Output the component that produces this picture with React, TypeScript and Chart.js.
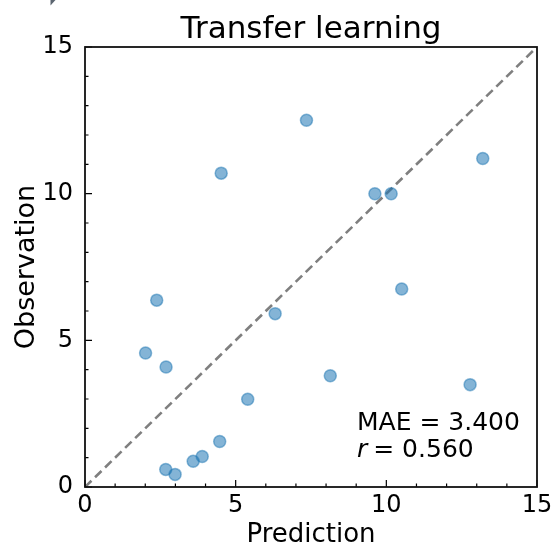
import React, { useEffect, useRef } from 'react';
import { Chart, registerables } from 'chart.js';

Chart.register(...registerables);

// Predicted vs. observed values for each sample
const predicted = [7.35, 4.52, 2.38, 6.31, 2.01, 2.69, 8.14, 5.4, 4.47, 3.89, 3.59, 2.68, 2.99, 13.2, 9.62, 10.16, 10.51, 12.78];
const observed = [12.5, 10.7, 6.37, 5.91, 4.57, 4.09, 3.79, 2.99, 1.55, 1.04, 0.88, 0.6, 0.43, 11.2, 10.0, 10.0, 6.75, 3.49];

// Shared axis range; the identity line runs across it
const axisRange = [0, 15];
const majorStep = 5;
const minorStep = 1;

const chartTitle = 'Transfer learning';
const xLabel = 'Prediction';
const yLabel = 'Observation';
const maeValue = 3.4;
const rValue = 0.56;

const FONT = '"DejaVu Sans", "Liberation Sans", sans-serif';

// Box frame, inward ticks, title and the stats annotation
const decorations = {
  id: 'decorations',
  afterDraw(chart: any) {
    const { ctx, chartArea } = chart;
    const { left, right, top, bottom } = chartArea;
    const xs = chart.scales.x;
    const ys = chart.scales.y;
    ctx.save();

    // inward ticks on left and bottom
    ctx.strokeStyle = '#000';
    ctx.lineWidth = 1.2;
    for (let v = axisRange[0]; v <= axisRange[1]; v += minorStep) {
      const len = v % majorStep === 0 ? 7 : 3.5;
      const py = ys.getPixelForValue(v);
      const px = xs.getPixelForValue(v);
      ctx.beginPath();
      ctx.moveTo(left, py);
      ctx.lineTo(left + len, py);
      ctx.moveTo(px, bottom);
      ctx.lineTo(px, bottom - len);
      ctx.stroke();
    }

    // frame
    ctx.lineWidth = 1.8;
    ctx.strokeStyle = '#111';
    ctx.strokeRect(left, top, right - left, bottom - top);

    // title
    ctx.fillStyle = '#000';
    ctx.font = `31px ${FONT}`;
    ctx.textAlign = 'center';
    ctx.textBaseline = 'alphabetic';
    ctx.fillText(chartTitle, (left + right) / 2, 38);

    // stats
    ctx.textAlign = 'left';
    ctx.font = `25px ${FONT}`;
    const tx = 357;
    ctx.fillText(`MAE = ${maeValue.toFixed(3)}`, tx, 430);
    ctx.font = `italic 25px ${FONT}`;
    ctx.fillText('r', tx, 457);
    const rw = ctx.measureText('r').width;
    ctx.font = `25px ${FONT}`;
    ctx.fillText(` = ${rValue.toFixed(3)}`, tx + rw - 2, 457);

    // small corner marker
    ctx.fillStyle = '#5b6570';
    ctx.beginPath();
    ctx.moveTo(50.5, 0);
    ctx.lineTo(55.5, 0);
    ctx.lineTo(50.5, 5.5);
    ctx.closePath();
    ctx.fill();

    ctx.restore();
  },
};

export default function App() {
  const canvasRef = useRef<HTMLCanvasElement | null>(null);

  useEffect(() => {
    const canvas = canvasRef.current;
    if (!canvas) return;
    const points = predicted.map((x, i) => ({ x, y: observed[i] }));
    const identity = axisRange.map((v) => ({ x: v, y: v }));

    const chart = new Chart(canvas, {
      type: 'scatter',
      data: {
        datasets: [
          {
            type: 'line',
            data: identity,
            borderColor: '#7f7f7f',
            borderDash: [9, 5],
            borderWidth: 2.6,
            pointRadius: 0,
            fill: false,
            order: 2,
          } as any,
          {
            data: points,
            backgroundColor: 'rgba(31,119,180,0.55)',
            borderColor: 'rgba(31,119,180,0.5)',
            borderWidth: 1.5,
            pointRadius: 6,
            order: 1,
          },
        ],
      },
      options: {
        animation: false,
        responsive: false,
        devicePixelRatio: 1,
        layout: { padding: { top: 47, right: 15, left: 0, bottom: 0 } },
        plugins: {
          legend: { display: false },
          tooltip: { enabled: false },
        },
        scales: {
          x: {
            type: 'linear',
            min: axisRange[0],
            max: axisRange[1],
            grid: { display: false, drawTicks: false },
            border: { display: false },
            ticks: {
              stepSize: majorStep,
              color: '#000',
              font: { family: FONT, size: 24 },
              padding: 4,
              maxRotation: 0,
            },
            title: {
              display: true,
              text: xLabel,
              color: '#000',
              font: { family: FONT, size: 26, lineHeight: 1 },
              padding: { top: 0, bottom: 0.5 },
            },
            afterFit: (s: any) => {
              s.height = 62;
              s.paddingLeft = 0;
              s.paddingRight = 0;
            },
          },
          y: {
            type: 'linear',
            min: axisRange[0],
            max: axisRange[1],
            grid: { display: false, drawTicks: false },
            border: { display: false },
            ticks: {
              stepSize: majorStep,
              color: '#000',
              font: { family: FONT, size: 24 },
              padding: 12,
            },
            title: {
              display: true,
              text: yLabel,
              color: '#000',
              font: { family: FONT, size: 27, lineHeight: 1 },
              padding: { top: 13.5, bottom: 0 },
            },
            afterFit: (s: any) => {
              s.width = 85;
              s.paddingTop = 0;
              s.paddingBottom = 0;
            },
          },
        },
      },
      plugins: [decorations],
    });

    return () => chart.destroy();
  }, []);

  return (
    <div style={{ position: 'fixed', left: 0, top: 0, width: 552, height: 549, background: '#fff' }}>
      <canvas ref={canvasRef} width={552} height={549} />
    </div>
  );
}
